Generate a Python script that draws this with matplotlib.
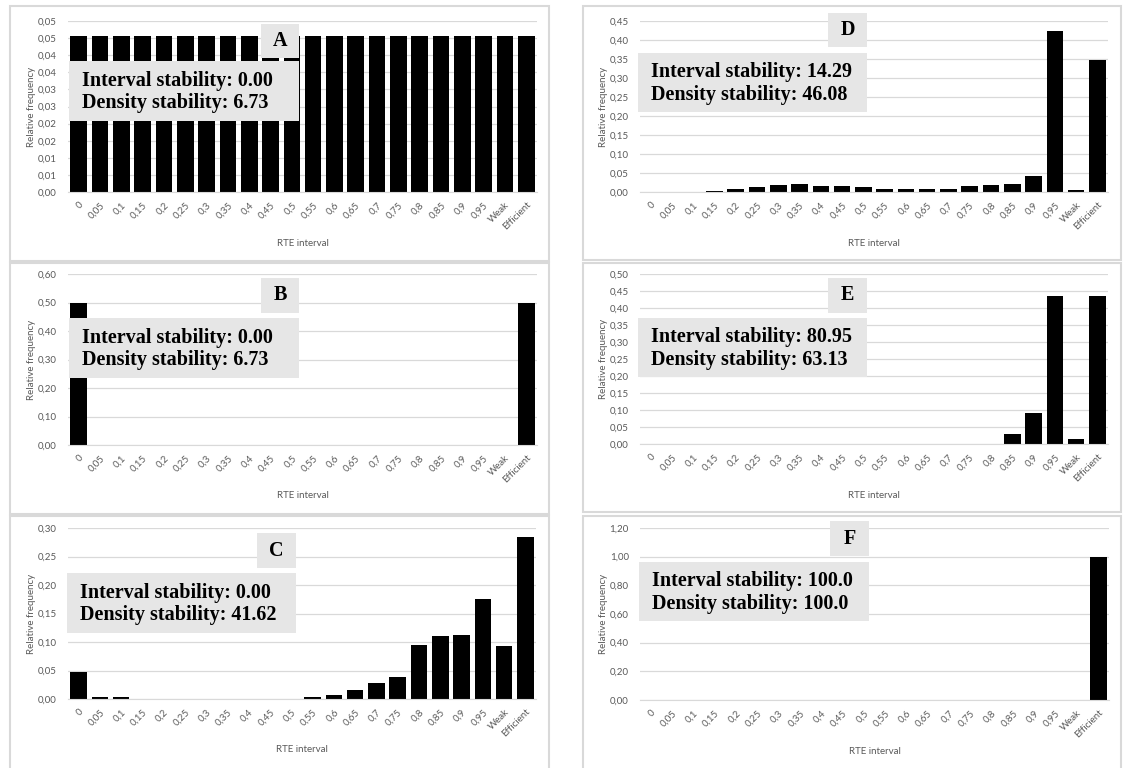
import matplotlib.pyplot as plt
from matplotlib.patches import Rectangle
import numpy as np

categories = ['0', '0,05', '0,1', '0,15', '0,2', '0,25', '0,3', '0,35', '0,4', '0,45', '0,5',
              '0,55', '0,6', '0,65', '0,7', '0,75', '0,8', '0,85', '0,9', '0,95', 'Weak', 'Efficient']

freq_a = [0.0455] * 22
freq_b = [0.50] + [0.0] * 20 + [0.50]
freq_c = [0.048, 0.003, 0.003, 0, 0, 0, 0, 0, 0, 0, 0,
          0.003, 0.007, 0.016, 0.028, 0.038, 0.095, 0.111, 0.112, 0.176, 0.093, 0.284]
freq_d = [0, 0, 0, 0.003, 0.007, 0.012, 0.019, 0.021, 0.017, 0.015, 0.012,
          0.008, 0.008, 0.008, 0.008, 0.015, 0.019, 0.021, 0.042, 0.423, 0.005, 0.348]
freq_e = [0] * 17 + [0.029, 0.090, 0.434, 0.016, 0.436]
freq_f = [0] * 21 + [1.0]

ymax = {'A': 0.05, 'B': 0.60, 'C': 0.30, 'D': 0.45, 'E': 0.50, 'F': 1.20}
ystep = {'A': 0.005, 'B': 0.10, 'C': 0.05, 'D': 0.05, 'E': 0.05, 'F': 0.20}
interval_stab = {'A': '0.00', 'B': '0.00', 'C': '0.00', 'D': '14.29', 'E': '80.95', 'F': '100.0'}
density_stab = {'A': '6.73', 'B': '6.73', 'C': '41.62', 'D': '46.08', 'E': '63.13', 'F': '100.0'}
freqs = {'A': freq_a, 'B': freq_b, 'C': freq_c, 'D': freq_d, 'E': freq_e, 'F': freq_f}

W, H = 1123, 768
fig = plt.figure(figsize=(W / 100, H / 100), dpi=100)
fig.patch.set_facecolor('white')

def fx(x):
    return x / W

def fy(y):
    return 1 - y / H

def box(x0, y0, x1, y1, **kw):
    fig.add_artist(Rectangle((fx(x0), fy(y1)), fx(x1) - fx(x0), fy(y0) - fy(y1),
                             transform=fig.transFigure, **kw))

# pixel layout: panel frame, plot area, letter box, stats box
layout = {
    'A': ((10, 6, 549, 261), (68, 21, 537, 192), (261, 24, 299, 58), (69, 61, 299, 121)),
    'B': ((10, 263, 549, 514), (68, 274, 537, 445), (261, 278, 299, 313), (69, 318, 299, 378)),
    'C': ((10, 516, 549, 770), (68, 528, 536, 699), (257, 533, 296, 568), (67, 573, 296, 633)),
    'D': ((583, 6, 1121, 260), (640, 21, 1108, 192), (828, 13, 867, 47), (638, 53, 867, 112)),
    'E': ((583, 263, 1121, 512), (640, 274, 1108, 444), (828, 278, 867, 313), (638, 318, 867, 377)),
    'F': ((583, 516, 1121, 770), (640, 528, 1109, 700), (830, 521, 869, 556), (639, 562, 869, 621)),
}

gray = '#595959'
grid = '#d9d9d9'
x = np.arange(len(categories))

for key in ['A', 'B', 'C', 'D', 'E', 'F']:
    frame, area, lbox, sbox = layout[key]
    box(*frame, facecolor='none', edgecolor='#d9d9d9', linewidth=1.5, zorder=0)

    ax = fig.add_axes([fx(area[0]), fy(area[3]), fx(area[2]) - fx(area[0]), fy(area[1]) - fy(area[3])])
    ax.bar(x, freqs[key], width=0.78, color='black', zorder=3)
    ax.set_xlim(-0.5, len(categories) - 0.5)
    ax.set_ylim(0, ymax[key])
    yt = np.arange(0, ymax[key] + ystep[key] / 2, ystep[key])
    ax.set_yticks(yt)
    ax.set_yticklabels([f'{v + 1e-9:.2f}'.replace('.', ',') for v in yt],
                       fontsize=7, color=gray, family='Lato')
    ax.set_xticks(x)
    ax.set_xticklabels(categories, rotation=45, ha='right', va='top', rotation_mode='anchor',
                       fontsize=7, color=gray, family='Lato')
    ax.tick_params(axis='both', length=0)
    ax.tick_params(axis='x', pad=6)
    ax.tick_params(axis='y', pad=8)
    ax.grid(axis='y', color=grid, linewidth=0.9, zorder=0)
    for s in ['top', 'right', 'left']:
        ax.spines[s].set_visible(False)
    ax.spines['bottom'].set_color(grid)
    ax.spines['bottom'].set_zorder(4)
    ax.set_facecolor('none')

    fig.text(fx(area[0] - 36), fy((area[1] + area[3]) / 2), 'Relative frequency', rotation=90,
             ha='center', va='center', fontsize=7, color=gray, family='Lato')
    fig.text(fx((area[0] + area[2]) / 2), fy(area[3] + 51), 'RTE interval',
             ha='center', va='center', fontsize=7, color=gray, family='Lato')

    box(*lbox, facecolor='#e6e6e6', edgecolor='none', zorder=5)
    fig.text(fx((lbox[0] + lbox[2]) / 2), fy((lbox[1] + lbox[3]) / 2), key, ha='center', va='center',
             fontsize=14.5, fontweight='bold', family='Liberation Serif', zorder=6)
    box(*sbox, facecolor='#e6e6e6', edgecolor='none', zorder=5)
    fig.text(fx(sbox[0] + 13), fy((sbox[1] + sbox[3]) / 2 + 1),
             f'Interval stability: {interval_stab[key]}\nDensity stability: {density_stab[key]}',
             ha='left', va='center', fontsize=14.5, fontweight='bold', family='Liberation Serif',
             linespacing=1.15, zorder=6)

fig.savefig('out.png', dpi=100)
